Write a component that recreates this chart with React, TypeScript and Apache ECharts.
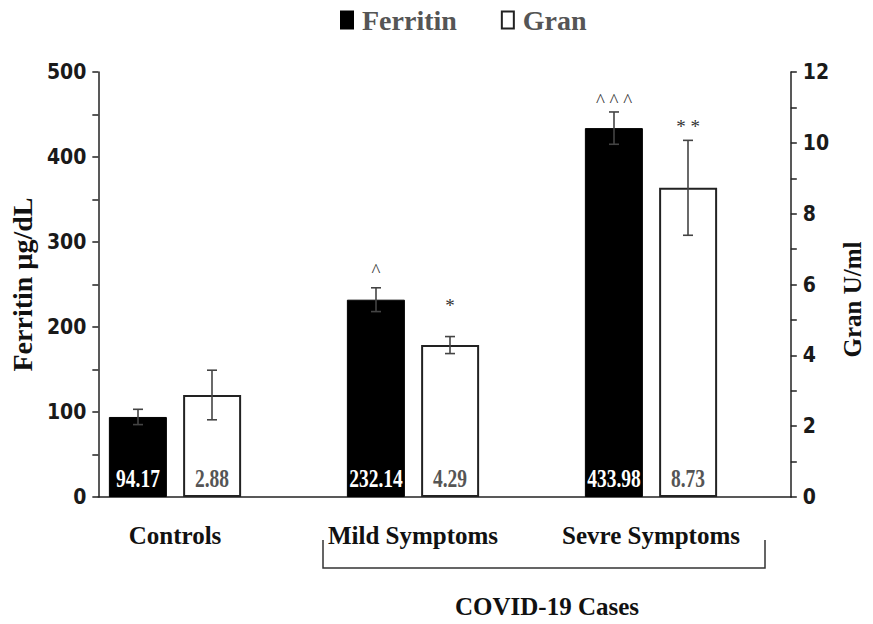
import React, { useEffect, useRef } from "react";
import * as echarts from "echarts";

const categories = ["Controls", "Mild Symptoms", "Sevre Symptoms"];
const ferritin = [94.17, 232.14, 433.98];
const ferritinErr = [9, 14, 19];
const gran = [2.88, 4.29, 8.73];
const granErr = [0.7, 0.24, 1.34];
const ferritinSig = ["", "^", "^ ^ ^"];
const granSig = ["", "*", "* *"];
const ferritinTicks = { min: 0, max: 500, interval: 100 };
const granTicks = { min: 0, max: 12, interval: 2 };

const SERIF = "'Liberation Serif', 'Times New Roman', serif";
const NARROW = "'Liberation Sans Narrow', 'DejaVu Sans Condensed', 'Liberation Sans', sans-serif";
const BAR_W = 58;
const GAP = 16;
const HALF = (BAR_W + GAP) / 2;

export default function App() {
  const ref = useRef<HTMLDivElement>(null);
  useEffect(() => {
    if (!ref.current) return;
    const chart = echarts.init(ref.current, undefined, { renderer: "svg" });

    const errSeries = (
      name: string,
      vals: number[],
      errs: number[],
      sig: string[],
      yIdx: number,
      dir: number,
      labelColor: string,
      sigGap: number[]
    ) => ({
      type: "custom",
      name: name + " error",
      xAxisIndex: 1,
      yAxisIndex: yIdx,
      silent: true,
      z: 10,
      data: vals.map((v, i) => [i, v, errs[i]]),
      renderItem: (params: any, api: any) => {
        const i = api.value(0);
        const v = api.value(1);
        const e = api.value(2);
        const c = api.coord([i, v]);
        const top = api.coord([i, v + e]);
        const bot = api.coord([i, v - e]);
        const base = api.coord([i, 0]);
        const x = c[0] + dir * HALF;
        const cap = 5;
        const st = { stroke: "#444", lineWidth: 1.6 };
        return {
          type: "group",
          children: [
            { type: "line", shape: { x1: x, y1: top[1], x2: x, y2: bot[1] }, style: st },
            { type: "line", shape: { x1: x - cap, y1: top[1], x2: x + cap, y2: top[1] }, style: st },
            { type: "line", shape: { x1: x - cap, y1: bot[1], x2: x + cap, y2: bot[1] }, style: st },
            {
              type: "text",
              x,
              y: top[1] - sigGap[i],
              style: {
                text: sig[i],
                font: `normal 19px ${SERIF}`,
                fill: "#333",
                align: "center",
                verticalAlign: "bottom",
              },
            },
            {
              type: "text",
              x,
              y: base[1] - 6,
              scaleX: 0.78,
              style: {
                text: v.toFixed(2),
                font: `bold 25px ${SERIF}`,
                fill: labelColor,
                align: "center",
                verticalAlign: "bottom",
              },
            },
          ],
        };
      },
    });

    const axisText = { fontFamily: NARROW, fontWeight: "bold", fontSize: 21, color: "#1a1a1a", margin: 12 };
    const lineSt = { color: "#222", width: 1.5 };

    chart.setOption({
      animation: false,
      legend: {
        top: 1,
        left: 335,
        itemGap: 44,
        itemWidth: 12,
        itemHeight: 17,
        icon: "rect",
        textStyle: {
          fontFamily: SERIF,
          fontWeight: "bold",
          fontSize: 28,
          color: "#555",
          padding: [0, 0, 0, 4],
        },
        data: ["Ferritin", "Gran"],
      },
      grid: [
        { left: 90, right: 67, top: 72, bottom: 127 },
        { left: 56, right: 103, top: 72, bottom: 127 },
      ],
      xAxis: [
        {
          type: "category",
          gridIndex: 0,
          data: categories,
          axisLine: { show: true, lineStyle: lineSt },
          axisTick: { show: false },
          axisLabel: { show: false },
        },
        {
          type: "category",
          gridIndex: 1,
          data: categories,
          axisLine: { show: false },
          axisTick: { show: false },
          axisLabel: {
            margin: 26,
            fontFamily: SERIF,
            fontWeight: "bold",
            fontSize: 25,
            color: "#111",
          },
        },
      ],
      yAxis: [
        {
          type: "value",
          gridIndex: 0,
          position: "left",
          ...ferritinTicks,
          name: "Ferritin µg/dL",
          nameLocation: "middle",
          nameGap: 52,
          nameTextStyle: { fontFamily: SERIF, fontWeight: "bold", fontSize: 28, color: "#111" },
          axisLine: { show: true, lineStyle: lineSt },
          axisTick: { show: true, inside: false, length: 6, lineStyle: lineSt },
          minorTick: { show: true, splitNumber: 2, length: 6, lineStyle: lineSt },
          splitLine: { show: false },
          axisLabel: axisText,
        },
        {
          type: "value",
          gridIndex: 0,
          position: "right",
          ...granTicks,
          name: "Gran U/ml",
          nameLocation: "middle",
          nameGap: 44,
          nameRotate: 90,
          nameTextStyle: {
            fontFamily: SERIF,
            fontWeight: "bold",
            fontSize: 25,
            color: "#111",
            padding: [0, 30, 0, 0],
          },
          axisLine: { show: true, lineStyle: lineSt },
          axisTick: { show: true, inside: false, length: 6, lineStyle: lineSt },
          minorTick: { show: true, splitNumber: 2, length: 6, lineStyle: lineSt },
          splitLine: { show: false },
          axisLabel: axisText,
        },
        { type: "value", gridIndex: 1, ...ferritinTicks, show: false },
        { type: "value", gridIndex: 1, ...granTicks, show: false },
      ],
      series: [
        {
          type: "bar",
          name: "Ferritin",
          xAxisIndex: 1,
          yAxisIndex: 2,
          data: ferritin,
          barWidth: BAR_W,
          barGap: `${Math.round((GAP / BAR_W) * 100)}%`,
          itemStyle: { color: "#000", borderColor: "#000", borderWidth: 1 },
        },
        {
          type: "bar",
          name: "Gran",
          xAxisIndex: 1,
          yAxisIndex: 3,
          data: gran,
          barWidth: BAR_W,
          barGap: `${Math.round((GAP / BAR_W) * 100)}%`,
          itemStyle: { color: "#fff", borderColor: "#222", borderWidth: 2 },
        },
        errSeries("Ferritin", ferritin, ferritinErr, ferritinSig, 2, -1, "#fff", [8, 8, 2]),
        errSeries("Gran", gran, granErr, granSig, 3, 1, "#555", [8, 22, 4]),
      ],
      graphic: [
        {
          type: "polyline",
          shape: { points: [[323, 540], [323, 568], [765, 568], [765, 540]] },
          style: { stroke: "#333", lineWidth: 1.5, fill: null },
        },
        {
          type: "text",
          x: 547,
          y: 606,
          style: {
            text: "COVID-19 Cases",
            font: `bold 25px ${SERIF}`,
            fill: "#111",
            align: "center",
            verticalAlign: "middle",
          },
        },
      ],
    });
    return () => chart.dispose();
  }, []);
  return (
    <div
      ref={ref}
      style={{ position: "absolute", left: 0, top: 0, width: 873, height: 624 }}
    />
  );
}
